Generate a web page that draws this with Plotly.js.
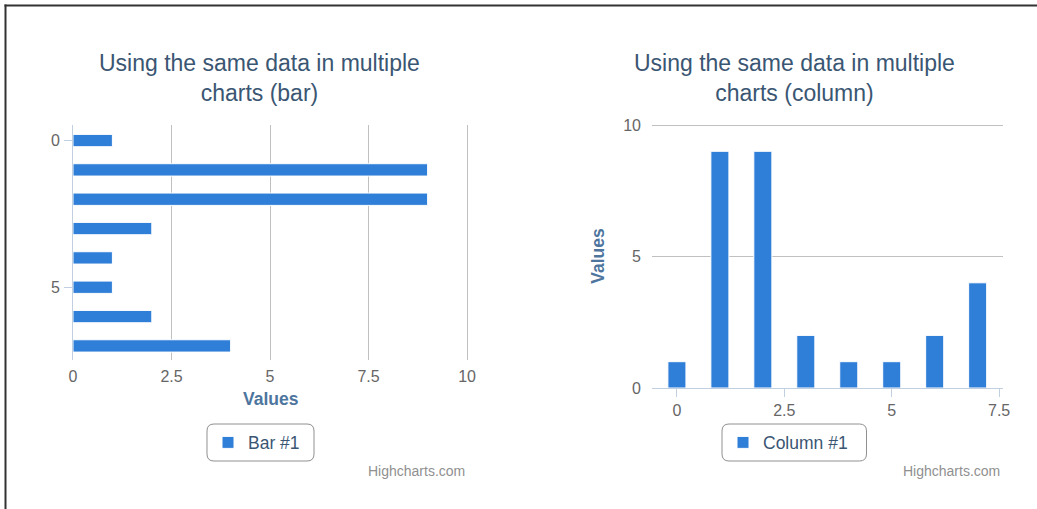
<!DOCTYPE html>
<html>
<head>
<meta charset="utf-8">
<script src="https://cdn.plot.ly/plotly-3.0.1.min.js"></script>
<style>
  html, body { margin: 0; padding: 0; background: #ffffff; }
  #chart { width: 1037px; height: 509px; }
</style>
</head>
<body>
<div id="chart"></div>
<script>
// ---- data ----
const categories = [0, 1, 2, 3, 4, 5, 6, 7];
const values = [1, 9, 9, 2, 1, 1, 2, 4];
const barSeriesName = 'Bar #1';
const columnSeriesName = 'Column #1';
const barTitleLines = ['Using the same data in multiple', 'charts (bar)'];
const columnTitleLines = ['Using the same data in multiple', 'charts (column)'];
const valueAxisTitle = 'Values';
const barValueTicks = [0, 2.5, 5, 7.5, 10];
const barCategoryTicks = [0, 5];
const columnXTicks = [0, 2.5, 5, 7.5];
const columnValueTicks = [0, 5, 10];
const creditText = 'Highcharts.com';

// ---- layout helpers (pixel -> paper) ----
const W = 1037, H = 509;
const px = x => x / W;
const py = y => 1 - y / H;
const FONT = '"Liberation Sans", Arial, Helvetica, sans-serif';
const BLUE = '#2f7ed8';
const TITLE_COLOR = '#3a5673';
const LABEL_COLOR = '#666666';
const AXIS_TITLE_COLOR = '#4d759e';
const GRID = '#C0C0C0';
const AXIS_LINE = '#C0D0E0';

function roundedRect(x0, y0, x1, y1, r) {
  const X = v => px(v).toFixed(5), Y = v => py(v).toFixed(5);
  return 'M' + X(x0 + r) + ',' + Y(y0) +
    ' L' + X(x1 - r) + ',' + Y(y0) +
    ' Q' + X(x1) + ',' + Y(y0) + ' ' + X(x1) + ',' + Y(y0 + r) +
    ' L' + X(x1) + ',' + Y(y1 - r) +
    ' Q' + X(x1) + ',' + Y(y1) + ' ' + X(x1 - r) + ',' + Y(y1) +
    ' L' + X(x0 + r) + ',' + Y(y1) +
    ' Q' + X(x0) + ',' + Y(y1) + ' ' + X(x0) + ',' + Y(y1 - r) +
    ' L' + X(x0) + ',' + Y(y0 + r) +
    ' Q' + X(x0) + ',' + Y(y0) + ' ' + X(x0 + r) + ',' + Y(y0) + ' Z';
}

const traces = [
  {
    type: 'bar', orientation: 'h',
    y: categories, x: values,
    name: barSeriesName,
    xaxis: 'x', yaxis: 'y',
    width: 0.42,
    marker: { color: BLUE, line: { color: '#ffffff', width: 1 } },
    legend: 'legend',
    hoverinfo: 'x+y'
  },
  {
    type: 'bar',
    x: categories, y: values,
    name: columnSeriesName,
    xaxis: 'x2', yaxis: 'y2',
    width: 0.42,
    marker: { color: BLUE, line: { color: '#ffffff', width: 1 } },
    legend: 'legend2',
    hoverinfo: 'x+y'
  }
];

const tickFont = { family: FONT, size: 16, color: LABEL_COLOR };
const axisTitleFont = { family: FONT, size: 17.5, color: AXIS_TITLE_COLOR, weight: 'bold' };

const annotations = [];
function titleAnn(lines, xc, yc) {
  annotations.push({
    text: lines.join('<br>'), xref: 'paper', yref: 'paper', x: px(xc), y: py(yc),
    xanchor: 'center', yanchor: 'middle', align: 'center', showarrow: false,
    font: { family: FONT, size: 23, color: TITLE_COLOR }
  });
}
titleAnn(barTitleLines, 259, 78);
titleAnn(columnTitleLines, 794.5, 78);
[467, 1002].forEach(xr => annotations.push({
  text: creditText, xref: 'paper', yref: 'paper', x: px(xr), y: py(471),
  xanchor: 'right', yanchor: 'middle', showarrow: false,
  font: { family: FONT, size: 14, color: '#909090' }
}));

const layout = {
  width: W, height: H,
  margin: { l: 0, r: 0, t: 0, b: 0 },
  paper_bgcolor: '#ffffff', plot_bgcolor: 'rgba(0,0,0,0)',
  bargap: 0,
  font: { family: FONT },
  xaxis: {
    domain: [px(73), px(468.6)], anchor: 'y',
    range: [0, 10.04], tickvals: barValueTicks,
    ticktext: barValueTicks.map(String),
    showgrid: true, gridcolor: GRID, gridwidth: 1,
    zeroline: false, showline: false, ticks: '',
    tickfont: tickFont, ticklabelstandoff: 5,
    title: { text: valueAxisTitle, font: axisTitleFont, standoff: 8 },
    fixedrange: true
  },
  yaxis: {
    domain: [py(360), py(125)], anchor: 'x',
    range: [7.48, -0.53], tickvals: barCategoryTicks,
    showgrid: false, zeroline: false,
    showline: true, linecolor: AXIS_LINE, linewidth: 1,
    ticks: 'outside', ticklen: 8, tickcolor: AXIS_LINE, tickwidth: 1,
    tickfont: tickFont, ticklabelstandoff: 1,
    fixedrange: true
  },
  xaxis2: {
    domain: [px(652), px(1003)], anchor: 'y2',
    range: [-0.58, 7.59], tickvals: columnXTicks,
    ticktext: columnXTicks.map(String),
    showgrid: false, zeroline: false,
    showline: true, linecolor: AXIS_LINE, linewidth: 1,
    ticks: 'outside', ticklen: 8, tickcolor: AXIS_LINE, tickwidth: 1,
    tickfont: tickFont, ticklabelstandoff: 0,
    fixedrange: true
  },
  yaxis2: {
    domain: [py(388), py(123.95)], anchor: 'x2',
    range: [0, 10.04], tickvals: columnValueTicks,
    showgrid: true, gridcolor: GRID, gridwidth: 1,
    zeroline: false, showline: false, ticks: '',
    tickfont: tickFont, ticklabelstandoff: 10,
    title: { text: valueAxisTitle, font: axisTitleFont, standoff: 14 },
    fixedrange: true
  },
  legend: {
    x: px(208), xanchor: 'left', y: py(442.5), yanchor: 'middle',
    bgcolor: 'rgba(0,0,0,0)', borderwidth: 0,
    font: { family: FONT, size: 17.5, color: TITLE_COLOR },
    orientation: 'h'
  },
  legend2: {
    x: px(723), xanchor: 'left', y: py(442.5), yanchor: 'middle',
    bgcolor: 'rgba(0,0,0,0)', borderwidth: 0,
    font: { family: FONT, size: 17.5, color: TITLE_COLOR },
    orientation: 'h'
  },
  showlegend: true,
  annotations: annotations,
  shapes: [
    { type: 'line', xref: 'paper', yref: 'paper', x0: px(4.5), x1: 1, y0: py(5.5), y1: py(5.5),
      line: { color: '#333333', width: 2 } },
    { type: 'line', xref: 'paper', yref: 'paper', x0: px(5.5), x1: px(5.5), y0: py(4.5), y1: 0,
      line: { color: '#333333', width: 2 } },
    { type: 'path', xref: 'paper', yref: 'paper', path: roundedRect(207, 424, 314, 461, 7),
      line: { color: '#909090', width: 1 }, fillcolor: 'rgba(0,0,0,0)' },
    { type: 'path', xref: 'paper', yref: 'paper', path: roundedRect(722, 424, 866.5, 461, 7),
      line: { color: '#909090', width: 1 }, fillcolor: 'rgba(0,0,0,0)' }
  ]
};

Plotly.newPlot('chart', traces, layout, { displayModeBar: false, staticPlot: true });
</script>
</body>
</html>
